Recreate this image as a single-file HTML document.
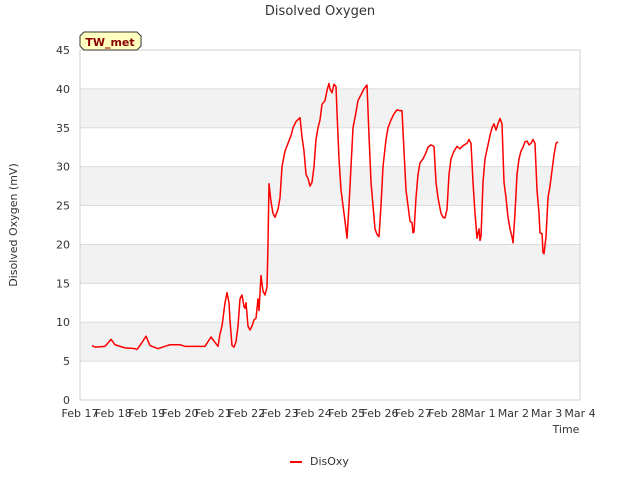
<!DOCTYPE html>
<html><head><meta charset="utf-8"><style>
body{margin:0;background:#fff;font-family:"DejaVu Sans","Liberation Sans",sans-serif;}
svg text{font-family:"DejaVu Sans","Liberation Sans",sans-serif;}
</style></head><body>
<svg id="chart" width="640" height="480">
<text x="320" y="15" text-anchor="middle" font-size="13" fill="#333">Disolved Oxygen</text>
<text transform="translate(17,225) rotate(-90)" text-anchor="middle" font-size="11" fill="#333">Disolved Oxygen (mV)</text>
<text x="566" y="433" text-anchor="middle" font-size="11" fill="#333">Time</text>
<g id="grid"></g><g id="axes"></g><g id="series"></g>
<g>
<path d="M84,32 L137,32 L141,36 L141,46 L137,50 L84,50 L80,46 L80,36 Z" fill="#ffffc0" stroke="#333" stroke-width="1"/>
<text x="110" y="46" text-anchor="middle" font-size="11" font-weight="bold" fill="#8b0000">TW_met</text>
</g>
<g>
<line x1="290" y1="462" x2="302" y2="462" stroke="#f00" stroke-width="2"/>
<text x="310" y="465" font-size="11" fill="#333">DisOxy</text>
</g>
</svg>
<script>
const xTickLabels=["Feb 17","Feb 18","Feb 19","Feb 20","Feb 21","Feb 22","Feb 23","Feb 24","Feb 25","Feb 26","Feb 27","Feb 28","Mar 1","Mar 2","Mar 3","Mar 4"];
const yTicks=[0,5,10,15,20,25,30,35,40,45];
const days=[0.36,0.45,0.75,0.93,1.05,1.35,1.65,1.71,1.83,1.98,2.1,2.34,2.55,2.7,3.0,3.15,3.6,3.75,3.93,4.05,4.14,4.2,4.26,4.35,4.41,4.47,4.5,4.56,4.62,4.68,4.74,4.8,4.86,4.92,4.95,4.98,5.04,5.1,5.16,5.22,5.28,5.34,5.37,5.43,5.49,5.55,5.61,5.64,5.67,5.73,5.79,5.85,5.94,6.0,6.06,6.15,6.24,6.33,6.39,6.48,6.6,6.66,6.72,6.78,6.84,6.9,6.96,7.02,7.08,7.14,7.2,7.26,7.35,7.41,7.47,7.5,7.56,7.62,7.68,7.71,7.77,7.83,7.89,7.95,8.01,8.07,8.13,8.19,8.28,8.34,8.4,8.46,8.52,8.61,8.67,8.73,8.79,8.85,8.91,8.97,9.03,9.09,9.18,9.24,9.33,9.42,9.51,9.6,9.66,9.72,9.78,9.84,9.9,9.96,9.99,10.02,10.08,10.14,10.2,10.29,10.38,10.44,10.53,10.62,10.68,10.74,10.83,10.89,10.95,11.01,11.07,11.13,11.22,11.31,11.4,11.49,11.61,11.67,11.73,11.79,11.85,11.91,11.94,11.97,12.0,12.03,12.09,12.15,12.24,12.3,12.36,12.42,12.48,12.54,12.6,12.66,12.72,12.78,12.84,12.9,12.96,12.99,13.05,13.11,13.17,13.23,13.29,13.35,13.41,13.47,13.53,13.59,13.65,13.71,13.77,13.8,13.86,13.89,13.92,13.98,14.04,14.1,14.16,14.22,14.28,14.34];
const disOxy=[7.0,6.8,6.9,7.8,7.1,6.7,6.6,6.5,7.2,8.2,7.0,6.6,6.9,7.1,7.1,6.9,6.9,6.9,8.1,7.4,6.9,8.5,9.5,12.5,13.8,12.5,10.2,7.0,6.8,7.5,9.5,13.0,13.5,12,11.8,12.5,9.5,9.0,9.5,10.3,10.5,13.0,11.5,16,14,13.5,14.5,20,27.8,25.5,24,23.5,24.5,26,30,32,33,34,35,35.8,36.3,33.8,32,29,28.5,27.5,28,30,33.5,35,36,38,38.5,39.8,40.7,40,39.5,40.6,40.3,37,31,27,25,23,20.8,25,30,35,37,38.5,39,39.5,40,40.5,34,28,25,22,21.3,21,25,30,33.5,35,36,36.8,37.3,37.2,37.2,32,27,25,23,22.8,21.5,21.6,26,29,30.5,31,31.8,32.5,32.8,32.6,28,26,24,23.5,23.4,24.5,29,31,32,32.6,32.3,32.7,33,33.5,33,28,24,20.8,21.5,22,20.5,21,28,31,32.8,34,35,35.5,34.7,35.5,36.2,35.5,28,26,23.5,22,21,20.2,24,29,31,32,32.5,33.2,33.3,32.8,33,33.5,33,27,24,21.5,21.4,19,18.8,21,26,27.5,29.5,31.5,33,33.2];
const L=80,R=580,T=50,B=400,NS="http://www.w3.org/2000/svg";
const xs=d=>L+d*(R-L)/15, ys=v=>B-v*(B-T)/45;
function mk(t,a,p){const e=document.createElementNS(NS,t);for(const k in a)e.setAttribute(k,a[k]);p.appendChild(e);return e;}
const grid=document.getElementById('grid'),axes=document.getElementById('axes'),ser=document.getElementById('series');
for(let i=0;i<yTicks.length-1;i++){if(i%2===1){const r=mk('rect',{x:L,y:ys(yTicks[i+1]),width:R-L,height:ys(yTicks[i])-ys(yTicks[i+1]),fill:'#f2f2f2'},grid);

}}
yTicks.forEach(v=>{const l=mk('line',{x1:L,x2:R,y1:ys(v),y2:ys(v),stroke:'#dcdcdc'},grid);


const t=mk('text',{x:L-10,y:ys(v)+4,'text-anchor':'end','font-size':11,fill:'#333'},axes);t.textContent=v;

});
mk('rect',{x:L,y:T,width:R-L,height:B-T,fill:'none',stroke:'#d0d0d0'},grid);
xTickLabels.forEach((s,i)=>{const t=mk('text',{x:xs(i),y:B+17,'text-anchor':'middle','font-size':11,fill:'#333'},axes);t.textContent=s;

});
const p=mk('polyline',{points:days.map((d,i)=>xs(d)+','+ys(disOxy[i])).join(' '),fill:'none',stroke:'#f00','stroke-width':1.5,'stroke-linejoin':'round'},ser);


</script>
</body></html>
